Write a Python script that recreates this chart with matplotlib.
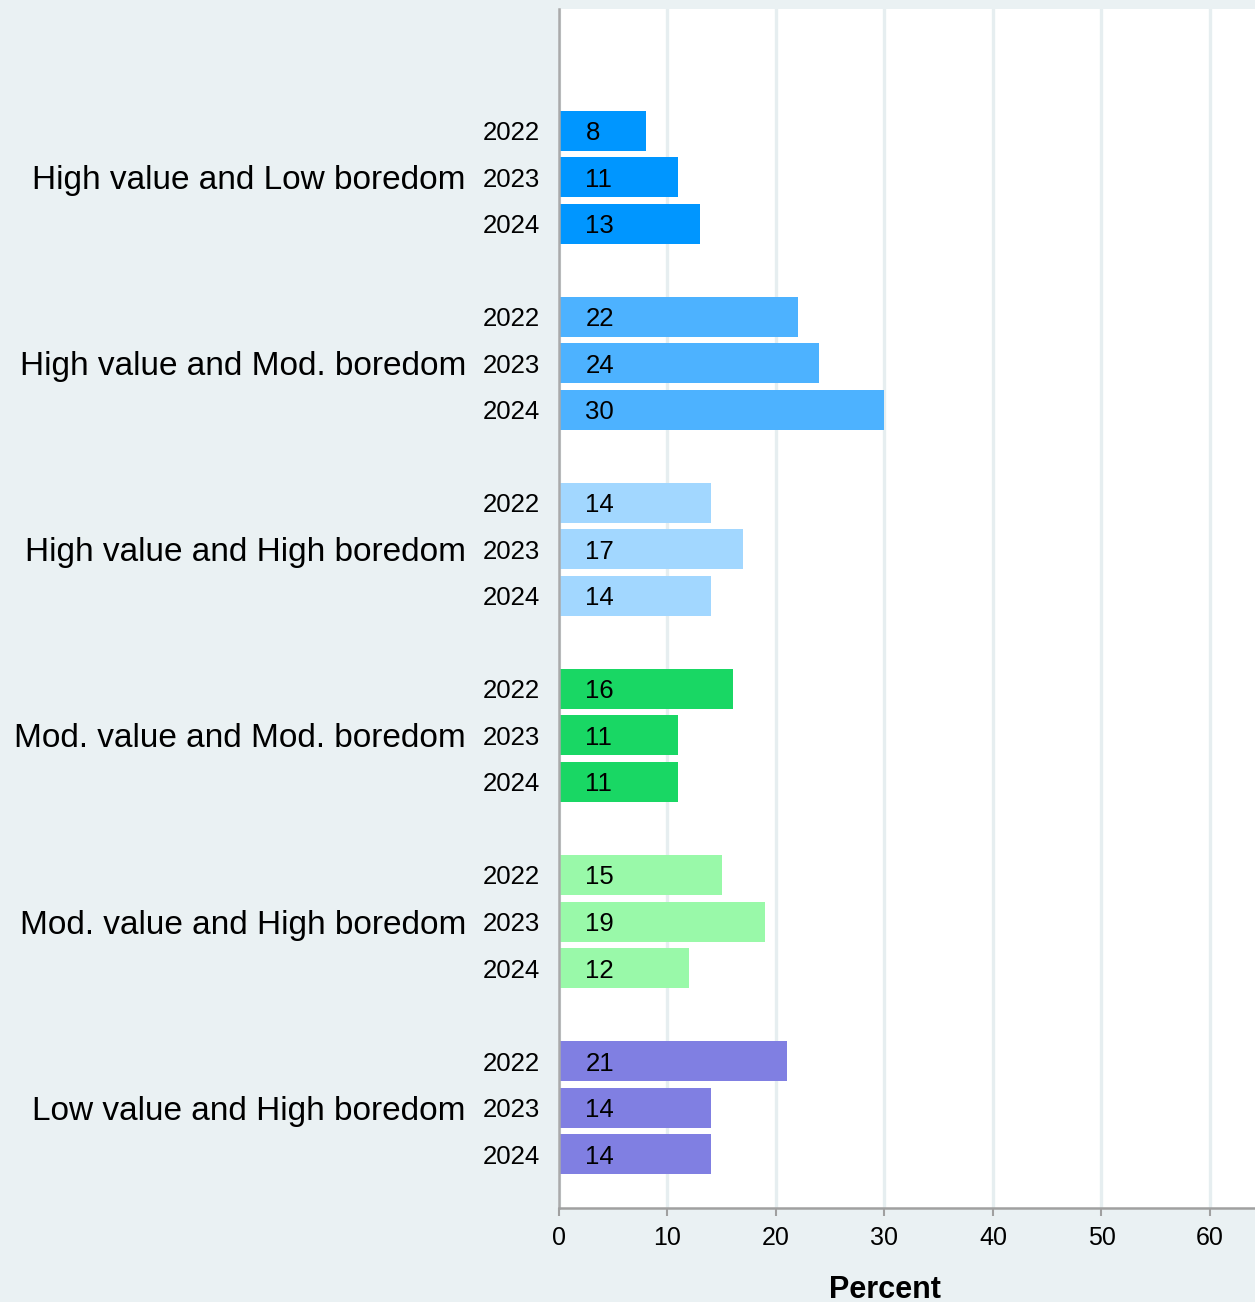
import matplotlib
matplotlib.use("Agg")
import matplotlib.pyplot as plt
import matplotlib.transforms as mtransforms

plt.rcParams['font.family'] = ['Liberation Sans', 'DejaVu Sans']

categories = [
    "High value and Low boredom",
    "High value and Mod. boredom",
    "High value and High boredom",
    "Mod. value and Mod. boredom",
    "Mod. value and High boredom",
    "Low value and High boredom",
]
years = ["2022", "2023", "2024"]
values = [
    [8, 11, 13],
    [22, 24, 30],
    [14, 17, 14],
    [16, 11, 11],
    [15, 19, 12],
    [21, 14, 14],
]
colors = ["#0096ff", "#4db2ff", "#a2d7ff", "#19d764", "#99f9a9", "#807fe2"]

bg = "#eaf1f3"
fig = plt.figure(figsize=(12.55, 13.02), dpi=100, facecolor=bg)
ax = fig.add_axes([559 / 1255, (1302 - 1208) / 1302, (1255 - 559) / 1255, (1208 - 9) / 1302])
ax.set_facecolor("white")

ypos, ylabels = [], []
for g, (cat, vals, col) in enumerate(zip(categories, values, colors)):
    for j, (yr, v) in enumerate(zip(years, vals)):
        y = g * 4 + j
        ax.barh(y, v, height=0.86, color=col, zorder=2)
        ax.annotate(str(v), xy=(0, y), xycoords="data",
                    xytext=(19, 0), textcoords="offset points",
                    va="center_baseline", ha="left", fontsize=18.5, color="black", zorder=3)
        ypos.append(y)
        ylabels.append(yr)
    ax.annotate(cat, xy=(0, g * 4 + 1), xycoords=("axes fraction", "data"),
                xytext=(-67, 0), textcoords="offset points",
                ha="right", va="center_baseline", fontsize=24, color="black")

ax.set_ylim(23.16, -2.62)
ax.set_xlim(0, 64.15)
ax.set_yticks(ypos)
ax.set_yticklabels(ylabels, fontsize=18.5, va="center_baseline")
ax.tick_params(axis="y", length=0, pad=14)
ax.set_xticks([0, 10, 20, 30, 40, 50, 60])
ax.tick_params(axis="x", length=6, width=1.5, color="#a0a0a0", labelsize=18, pad=7)

ax.grid(axis="x", color="#e6eef0", linewidth=2.4, zorder=0)
ax.set_axisbelow(True)
for s in ["top", "right"]:
    ax.spines[s].set_visible(False)
ax.spines["left"].set_color("#aaaaaa")
ax.spines["left"].set_linewidth(1.8)
ax.spines["bottom"].set_color("#a0a0a0")
ax.spines["bottom"].set_linewidth(1.8)

trans = mtransforms.blended_transform_factory(ax.transData, ax.transAxes)
ax.text(30, -0.068, "Percent", transform=trans, ha="center", va="center",
        fontsize=22, fontweight="bold")

fig.savefig("out.png", dpi=100, facecolor=bg)
